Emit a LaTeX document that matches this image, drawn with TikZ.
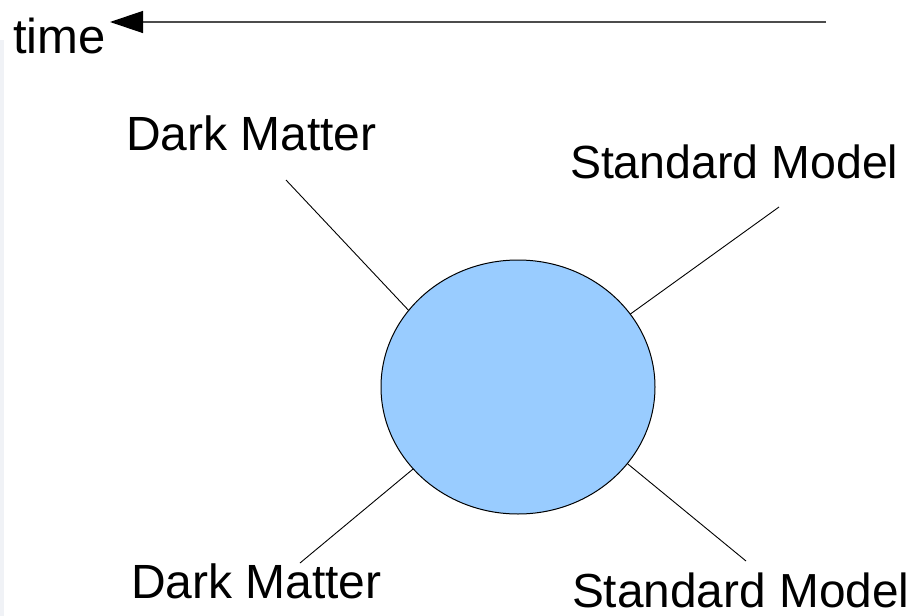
\documentclass[tikz,border=0pt]{standalone}
\usepackage{fontspec}
\setmainfont{Liberation Sans}
\usetikzlibrary{shapes.geometric,arrows.meta}
\definecolor{blobblue}{RGB}{153,204,255}
\definecolor{edgegray}{RGB}{240,242,246}
\begin{document}
\begin{tikzpicture}[x=1pt,y=-1pt,
  lbl/.style={anchor=base west,inner sep=0pt,outer sep=0pt,font=\fontsize{48}{54}\selectfont},
  leg/.style={draw=black,line width=0.9pt},
  blob/.style={ellipse,draw=black,line width=1pt,fill=blobblue,minimum width=274pt,minimum height=254pt,inner sep=0pt,outer sep=0pt}]
\useasboundingbox (0,0) rectangle (914,616);
\fill[edgegray] (0,40) rectangle (4,616);
% time axis
\node[lbl,font=\fontsize{49}{54}\selectfont] (time) at (13,53) {time};
\coordinate (tstart) at (826,22);
\coordinate (tend) at (110,22);
\draw[line width=1.3pt,draw=black!70,-{Triangle[length=33pt,width=22pt,fill=black,color=black]}] (tstart) -- (tend);
% labels
\node[lbl] (dm1) at (126,150) {Dark Matter};
\node[lbl,font=\fontsize{46.5}{52}\selectfont] (sm1) at (570,178) {Standard Model};
\node[lbl] (dm2) at (131,598) {Dark Matter};
\node[lbl,font=\fontsize{47.8}{52}\selectfont] (sm2) at (572,607) {Standard Model};
% blob
\node[blob] (e) at (518,387) {};
% free ends
\coordinate (a1) at (286,180);
\coordinate (a2) at (779,207);
\coordinate (a3) at (300,563);
\coordinate (a4) at (746,561);
\draw[leg] (a1) -- (e.145.7);
\draw[leg] (a2) -- (e.33.5);
\draw[leg] (a3) -- (e.218);
\draw[leg] (a4) -- (e.325.4);
\end{tikzpicture}
\end{document}
